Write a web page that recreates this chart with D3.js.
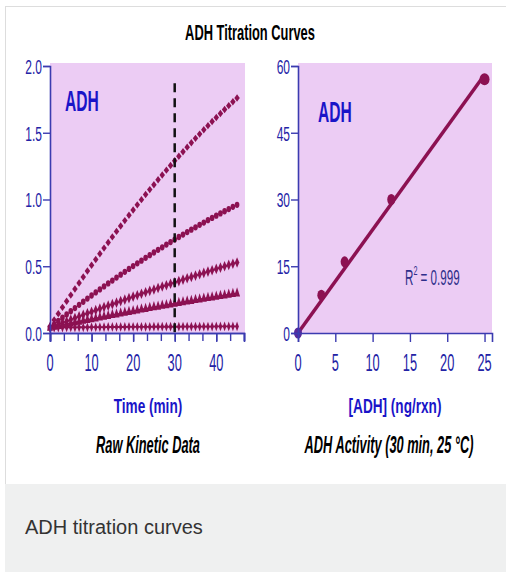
<!DOCTYPE html>
<html>
<head>
<meta charset="utf-8">
<script src="https://cdn.jsdelivr.net/npm/d3@7"></script>
<style>
  body { margin: 0; background: #fff; }
  svg { display: block; }
</style>
</head>
<body>
<svg id="chart"></svg>
<script>
// ---- data ----
const timeMin = [0,1,2,3,4,5,6,7,8,9,10,11,12,13,14,15,16,17,18,19,20,21,22,23,24,25,26,27,28,29,30,31,32,33,34,35,36,37,38,39,40,41,42,43,44,45];

// absorbance, one series per ADH amount (top to bottom)
const adh25 = [0.050,0.098,0.145,0.192,0.238,0.284,0.330,0.375,0.420,0.464,
  0.508,0.551,0.594,0.636,0.678,0.720,0.761,0.802,0.842,0.882,
  0.921,0.960,0.999,1.037,1.074,1.111,1.148,1.184,1.220,1.255,
  1.290,1.324,1.358,1.392,1.425,1.458,1.490,1.522,1.553,1.584,
  1.614,1.644,1.674,1.703,1.732,1.760];
const adh12 = [0.040,0.065,0.090,0.115,0.139,0.163,0.187,0.211,0.234,0.258,
  0.281,0.304,0.326,0.349,0.371,0.393,0.415,0.437,0.458,0.480,
  0.501,0.522,0.542,0.563,0.583,0.603,0.623,0.642,0.662,0.681,
  0.700,0.719,0.737,0.756,0.774,0.792,0.810,0.827,0.845,0.862,
  0.879,0.896,0.912,0.928,0.945,0.960];
const adh6 = [0.040,0.052,0.064,0.076,0.088,0.100,0.112,0.124,0.136,0.148,
  0.159,0.171,0.182,0.194,0.205,0.216,0.227,0.239,0.250,0.261,
  0.272,0.283,0.294,0.305,0.316,0.326,0.337,0.348,0.358,0.369,
  0.379,0.389,0.400,0.410,0.420,0.430,0.440,0.450,0.460,0.470,
  0.480,0.490,0.500,0.510,0.519,0.528];
const adh3 = [0.040,0.047,0.053,0.060,0.066,0.072,0.079,0.085,0.092,0.098,
  0.104,0.110,0.116,0.122,0.128,0.135,0.140,0.146,0.152,0.158,
  0.164,0.170,0.176,0.181,0.187,0.193,0.198,0.204,0.209,0.215,
  0.220,0.225,0.231,0.236,0.241,0.247,0.252,0.257,0.262,0.267,
  0.272,0.277,0.282,0.287,0.292,0.297];
const adh0 = [0.040,0.040,0.041,0.041,0.042,0.042,0.042,0.043,0.043,0.043,
  0.044,0.044,0.044,0.044,0.045,0.045,0.045,0.045,0.045,0.046,
  0.046,0.046,0.046,0.046,0.046,0.047,0.047,0.047,0.047,0.047,
  0.047,0.047,0.048,0.048,0.048,0.048,0.048,0.048,0.048,0.048,
  0.049,0.049,0.049,0.049,0.049,0.049];

// activity plot
const adhNg = [0, 3.125, 6.25, 12.5, 25];
const activity = [0, 8.5, 16, 30, 57];

const leftYTicks = [0, 0.5, 1.0, 1.5, 2.0];
const leftXTicks = [0, 10, 20, 30, 40];
const rightYTicks = [0, 15, 30, 45, 60];
const rightXTicks = [0, 5, 10, 15, 20, 25];
const readTime = 30;

// ---- layout ----
const width = 506, height = 572;
const svg = d3.select("#chart").attr("width", width).attr("height", height);

// no narrow font installed: squeeze Liberation Sans horizontally
const FONT = "'Liberation Sans', Arial, sans-serif";
const NARROW = 0.8;
const axisColor = "#3b3bb0";
const tickColor = "#2323a6";
const markColor = "#8c1152";
const plotBg = "#ecccf4";

// card + footer
svg.append("rect")
  .attr("x", 5.5).attr("y", 6.5)
  .attr("width", 520).attr("height", 478)
  .attr("fill", "#fff")
  .attr("stroke", "#dddddd");
svg.append("rect")
  .attr("x", 5).attr("y", 484)
  .attr("width", 510).attr("height", 100)
  .attr("fill", "#eff0f0");

// stretched text helper, the source picture has tall narrow lettering
function label(g, txt, x, y, o) {
  o = o || {};
  const sx = o.sx || NARROW;
  return g.append("text")
    .attr("transform", `translate(${x},${y}) scale(${sx},${o.sy || 1})`)
    .attr("text-anchor", o.anchor || "middle")
    .attr("font-family", FONT)
    .attr("font-size", o.size || 16)
    .attr("font-weight", o.weight || "normal")
    .attr("font-style", o.style || "normal")
    .attr("fill", o.fill || "#000")
    .text(txt);
}

label(svg, "ADH Titration Curves", 250, 40, {size: 16.5, sx: 0.78, sy: 1.33, weight: "bold"});

const plotTop = 66, plotBottom = 333;

// ---------- left panel: raw kinetic data ----------
const lx = d3.scaleLinear().domain([0, 46.67]).range([50, 244]);
const ly = d3.scaleLinear().domain([0, 2]).range([plotBottom, plotTop]);

const left_g = svg.append("g");
left_g.append("rect")
  .attr("x", lx(0)).attr("y", plotTop - 3)
  .attr("width", 245 - lx(0)).attr("height", plotBottom - plotTop + 3)
  .attr("fill", plotBg);

const series = [
  {vals: adh25, type: d3.symbolSquare, size: 15, sx: 1, sy: 1.35, rot: 45, line: 0},
  {vals: adh12, type: d3.symbolCircle, size: 17, sx: 1, sy: 1.35, rot: 0, line: 1},
  {vals: adh6, type: d3.symbolDiamond, size: 18, sx: 1, sy: 1.35, rot: 0, line: 1.5},
  {vals: adh3, type: d3.symbolTriangle, size: 22, sx: 0.85, sy: 1.5, rot: 0, line: 1.8},
  {vals: adh0, type: d3.symbolDiamond, size: 14, sx: 0.9, sy: 1.4, rot: 0, line: 1.8}
];

const line = d3.line()
  .x((d, i) => lx(timeMin[i]))
  .y(d => ly(d));

series.forEach(s => {
  if (s.line) {
    left_g.append("path")
      .attr("d", line(s.vals))
      .attr("fill", "none")
      .attr("stroke", markColor)
      .attr("stroke-width", s.line);
  }
  left_g.append("g").selectAll("path")
    .data(s.vals)
    .join("path")
    .attr("transform", (d, i) => `translate(${lx(timeMin[i])},${ly(d)}) scale(${s.sx},${s.sy}) rotate(${s.rot})`)
    .attr("d", d3.symbol().type(s.type).size(s.size))
    .attr("fill", markColor);
});

// 30 min read line
left_g.append("line")
  .attr("x1", lx(readTime)).attr("x2", lx(readTime))
  .attr("y1", ly(1.87)).attr("y2", ly(0))
  .attr("stroke", "#111")
  .attr("stroke-width", 2.5)
  .attr("stroke-dasharray", "9,6");

label(left_g, "ADH", 65, 111, {size: 19.5, sy: 1.5, weight: "bold", anchor: "start", fill: "#1a14c8"});

// axes
left_g.append("g")
  .attr("class", "yax")
  .attr("transform", `translate(${lx(0)},0)`)
  .call(d3.axisLeft(ly).tickValues(leftYTicks).tickFormat(d3.format(".1f")).tickSize(7).tickPadding(3));
const lxMinor = d3.range(0, 15).map(i => i * 10 / 3);
left_g.append("g")
  .attr("transform", `translate(0,${plotBottom})`)
  .call(d3.axisBottom(lx).tickValues(lxMinor).tickSize(8).tickFormat(""));
left_g.append("g")
  .attr("transform", `translate(0,${plotBottom})`)
  .call(d3.axisBottom(lx).tickValues(leftXTicks).tickSize(9).tickFormat(""));

// ---------- right panel: activity ----------
const rx = d3.scaleLinear().domain([0, 26]).range([298, 492]);
const ry = d3.scaleLinear().domain([0, 60]).range([plotBottom, plotTop]);

const right_g = svg.append("g");
right_g.append("rect")
  .attr("x", rx(0)).attr("y", plotTop - 3)
  .attr("width", rx(26) - rx(0)).attr("height", plotBottom - plotTop + 3)
  .attr("fill", plotBg);

// least squares through the origin
const slope = d3.sum(adhNg, (x, i) => x * activity[i]) / d3.sum(adhNg, x => x * x);
right_g.append("line")
  .attr("x1", rx(0)).attr("y1", ry(0))
  .attr("x2", rx(25)).attr("y2", ry(slope * 25))
  .attr("stroke", markColor)
  .attr("stroke-width", 3.5);

right_g.selectAll(".pt")
  .data(adhNg)
  .join("ellipse")
  .attr("class", "pt")
  .attr("cx", d => rx(d))
  .attr("cy", (d, i) => ry(activity[i]))
  .attr("rx", (d, i) => i === adhNg.length - 1 ? 5 : 4)
  .attr("ry", (d, i) => i === adhNg.length - 1 ? 6 : 5.5)
  .attr("fill", (d, i) => i === 0 ? "#5a2a9a" : markColor);

label(right_g, "ADH", 318, 122, {size: 19.5, sy: 1.5, weight: "bold", anchor: "start", fill: "#1a14c8"});

const r2 = label(right_g, "R", 405, 285, {size: 14.5, sy: 1.5, anchor: "start", fill: "#2e2e8a"});
r2.append("tspan").attr("dy", -7).attr("font-size", 9).text("2");
r2.append("tspan").attr("dy", 7).text(" = 0.999");

right_g.append("g")
  .attr("class", "yax")
  .attr("transform", `translate(${rx(0)},0)`)
  .call(d3.axisLeft(ry).tickValues(rightYTicks).tickSize(7).tickPadding(3));
right_g.append("g")
  .attr("transform", `translate(0,${plotBottom})`)
  .call(d3.axisBottom(rx).tickValues(rightXTicks).tickSize(9).tickFormat(""));

// axis styling
svg.selectAll(".domain").attr("stroke", axisColor).attr("stroke-width", 1.6);
svg.selectAll(".tick line").attr("stroke", axisColor).attr("stroke-width", 1.4);
svg.selectAll(".yax .tick text")
  .attr("fill", tickColor)
  .attr("font-family", FONT)
  .attr("font-size", 15)
  .attr("transform", `scale(${NARROW},1.35)`)
  .attr("dy", "0.36em");

// x tick labels drawn as stretched text
leftXTicks.forEach(v => label(svg, v, lx(v), 371, {size: 16, sy: 1.55, fill: tickColor}));
rightXTicks.forEach(v => label(svg, v, rx(v), 371, {size: 16, sy: 1.55, fill: tickColor}));

// axis titles and captions
label(svg, "Time (min)", 148, 413, {size: 17, sy: 1.18, weight: "bold", fill: "#1a14c8"});
label(svg, "[ADH] (ng/rxn)", 395, 413, {size: 17, sy: 1.18, weight: "bold", fill: "#1a14c8"});
label(svg, "Raw Kinetic Data", 148, 453, {size: 16, sy: 1.45, weight: "bold", style: "italic"});
label(svg, "ADH Activity (30 min, 25 °C)", 389, 453, {size: 16, sy: 1.45, weight: "bold", style: "italic"});

label(svg, "ADH titration curves", 25, 534, {size: 20, sx: 1, anchor: "start", fill: "#333"});
</script>
</body>
</html>
